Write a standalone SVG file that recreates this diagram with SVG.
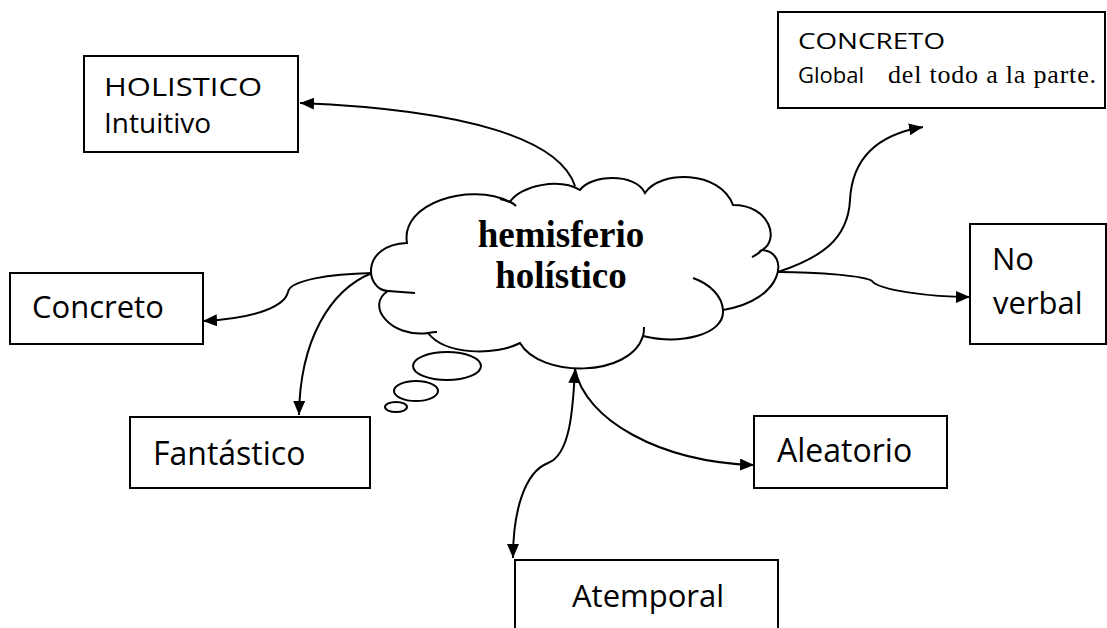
<svg xmlns="http://www.w3.org/2000/svg" width="1107" height="628" viewBox="0 0 1107 628">
<style>
.box{fill:#fff;stroke:#000;stroke-width:2}
.t{font-family:"Open Sans","DejaVu Sans",sans-serif;fill:#000}
.serif{font-family:"Liberation Serif","Times New Roman",serif;fill:#000}
.ln{fill:none;stroke:#000;stroke-width:2}
</style>
<defs>
<marker id="ah" viewBox="0 0 14 12" refX="14" refY="6" markerWidth="14" markerHeight="12" markerUnits="userSpaceOnUse" orient="auto-start-reverse"><path d="M0,0 L14,6 L0,12 z" fill="#000"/></marker>
</defs>
<rect width="1107" height="628" fill="#fff"/>
<g id="connectors">
<path class="ln" d="M575,186 C560,140 470,110 300,103" marker-end="url(#ah)"/>
<path class="ln" d="M778,272 C820,258 848,240 850,200 C852,160 875,135 923,127" marker-end="url(#ah)"/>
<path class="ln" d="M778,272 C820,272 865,276 872,281 C878,290 930,297 970,297" marker-end="url(#ah)"/>
<path class="ln" d="M372,273 C330,274 290,280 288,292 C285,305 260,318 203,321" marker-end="url(#ah)"/>
<path class="ln" d="M372,273 C330,290 300,340 299,415" marker-end="url(#ah)"/>
<path class="ln" d="M575,369 C585,420 660,462 754,465" marker-end="url(#ah)"/>
<path class="ln" d="M575,369 C573,410 570,455 548,463 C525,472 513,510 513,558" marker-start="url(#ah)" marker-end="url(#ah)"/>
</g>
<g id="cloud">
<path d="M407,243 C400,203 470,182 510,202 C520,185 560,178 580,190 C590,175 635,172 645,193 C660,170 720,170 733,205 C770,205 780,240 762,250 C790,252 785,300 723,310 C725,335 680,345 643,336 C630,378 540,378 520,343 C495,356 445,355 428,333 C390,338 365,305 388,291 C365,290 360,245 407,243 Z" fill="#fff" stroke="#000" stroke-width="2"/>
<path class="ln" d="M762,250 Q757,255 752,257 M693,278 C710,284 722,296 723,310 M388,291 Q402,292 415,293 M643,337 Q644,332 644,327 M428,333 Q433,332 437,332 M510,202 Q505,200 500,199 M510,202 Q513,203 516,206"/>
<ellipse cx="447" cy="366" rx="34" ry="14" fill="#fff" stroke="#000" stroke-width="2"/>
<ellipse cx="416" cy="391" rx="22" ry="10" fill="#fff" stroke="#000" stroke-width="2"/>
<ellipse cx="396" cy="407" rx="11" ry="5" fill="#fff" stroke="#000" stroke-width="2"/>
<text class="serif" x="561" y="247" font-size="37" font-weight="bold" text-anchor="middle">hemisferio</text>
<text class="serif" x="561" y="288" font-size="37" font-weight="bold" text-anchor="middle">holístico</text>
</g>
<g id="holistico">
<rect class="box" x="84" y="56" width="214" height="96"/>
<text class="t" x="104" y="96" font-size="25" textLength="158" lengthAdjust="spacingAndGlyphs">HOLISTICO</text>
<text class="t" x="104" y="133" font-size="28">Intuitivo</text>
</g>
<g id="concreto-global">
<rect class="box" x="778" y="12" width="327" height="96"/>
<text class="t" x="798" y="49" font-size="22" textLength="147" lengthAdjust="spacingAndGlyphs">CONCRETO</text>
<text class="t" x="798" y="83" font-size="22">Global</text>
<text class="serif" x="888" y="83" font-size="26" textLength="208">del todo a la parte.</text>
</g>
<g id="concreto">
<rect class="box" x="10" y="273" width="193" height="71"/>
<text class="t" x="32" y="318" font-size="31">Concreto</text>
</g>
<g id="noverbal">
<rect class="box" x="970" y="224" width="136" height="120"/>
<text class="t" x="992" y="270" font-size="31">No</text>
<text class="t" x="993" y="314" font-size="31">verbal</text>
</g>
<g id="fantastico">
<rect class="box" x="130" y="417" width="240" height="71"/>
<text class="t" x="153" y="465" font-size="32">Fantástico</text>
</g>
<g id="aleatorio">
<rect class="box" x="754" y="416" width="193" height="72"/>
<text class="t" x="777" y="462" font-size="32">Aleatorio</text>
</g>
<g id="atemporal">
<rect class="box" x="515" y="560" width="263" height="90"/>
<text class="t" x="572" y="607" font-size="31">Atemporal</text>
</g>
</svg>
